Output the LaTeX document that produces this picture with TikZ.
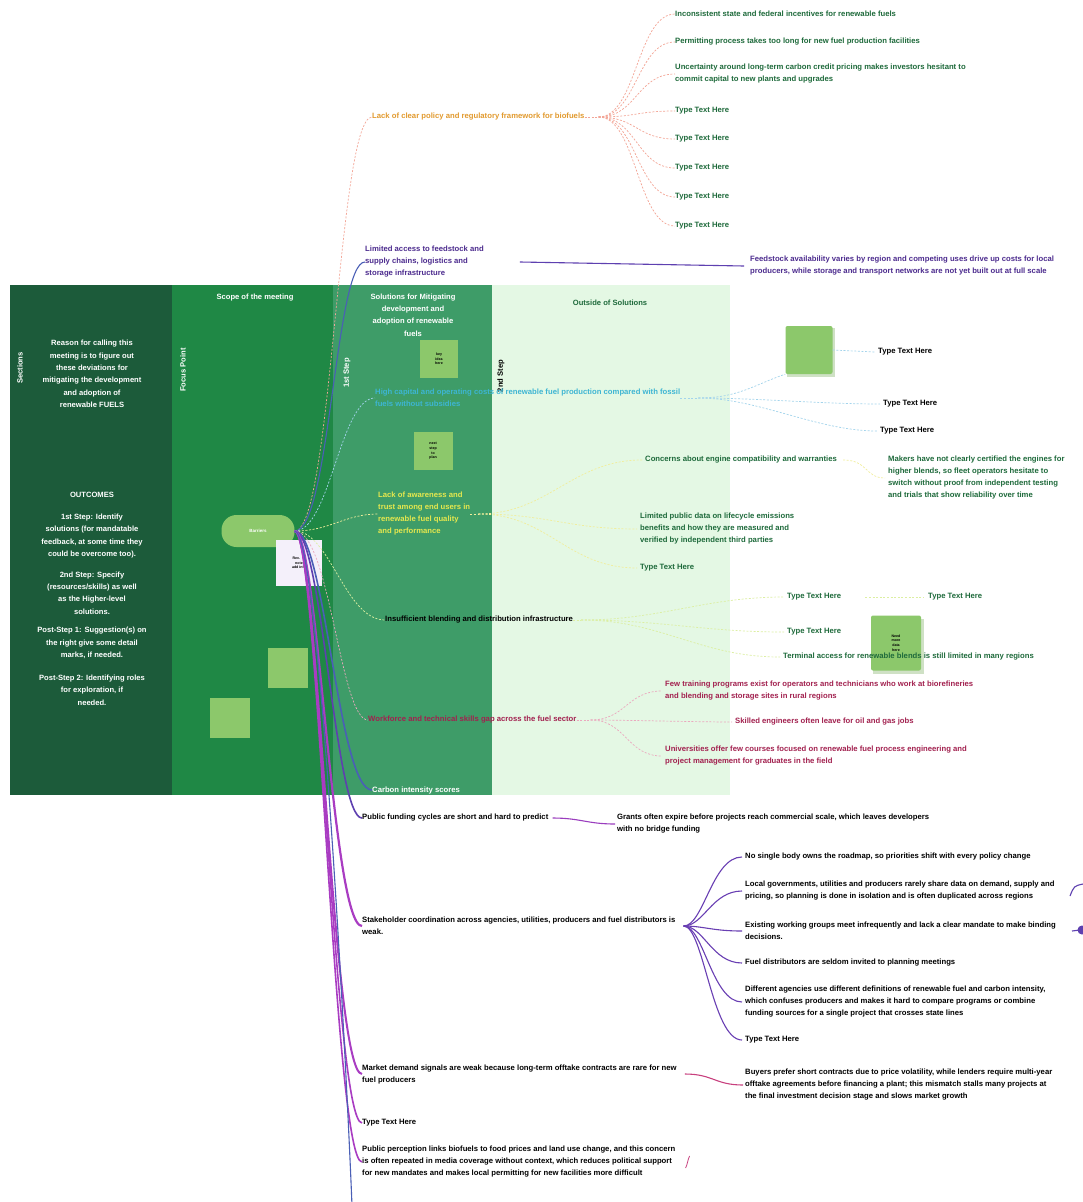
\documentclass[tikz,border=0pt]{standalone}
\usepackage{fontspec}
\setmainfont{Liberation Sans}
\definecolor{panelA}{HTML}{1C5B3A}
\definecolor{panelB}{HTML}{1F8845}
\definecolor{panelC}{HTML}{3E9C68}
\definecolor{panelD}{HTML}{E4F8E4}
\definecolor{leaf}{HTML}{8CC86B}
\definecolor{txtOrange}{HTML}{E29A2E}
\definecolor{txtGreen}{HTML}{1E6A3B}
\definecolor{txtPurple}{HTML}{4C2B8E}
\definecolor{txtCyan}{HTML}{3DB5D3}
\definecolor{txtYellow}{HTML}{E6E84E}
\definecolor{txtMaroon}{HTML}{A2214F}
\definecolor{lnSalmon}{HTML}{F3A596}
\definecolor{lnCyan}{HTML}{A3D4EC}
\definecolor{lnYellow}{HTML}{F1EE9C}
\definecolor{lnLime}{HTML}{DCEFA2}
\definecolor{lnPink}{HTML}{EBA8BE}
\definecolor{lnPurple}{HTML}{5E40B0}
\definecolor{lnBlue}{HTML}{4A5FB6}
\definecolor{lnMagenta}{HTML}{A93CC2}
\definecolor{lnRose}{HTML}{C8407E}
\definecolor{noteBg}{HTML}{F4F0FA}
\begin{document}
\begin{tikzpicture}[x=1pt,y=-1pt,
  lbl/.style={inner sep=0pt, anchor=west, align=left, font=\fontsize{7.7}{12}\selectfont\bfseries},
  ctr/.style={inner sep=0pt, align=center, font=\fontsize{7.6}{12.3}\selectfont\bfseries},
  vert/.style={inner sep=0pt, rotate=90, font=\fontsize{7.6}{12}\selectfont\bfseries},
  smalltxt/.style={font=\fontsize{3.6}{4.6}\selectfont\bfseries, align=center, text=black},
  dashline/.style={line width=0.7pt, dash pattern=on 2pt off 1.6pt},
  trunk/.style={line width=1.6pt},
  branch/.style={line width=1.1pt},
]
\useasboundingbox (0,0) rectangle (1083,1202);
\fill[white] (0,0) rectangle (1083,1202);

% swimlane panels
\fill[panelA] (10,285) rectangle (172,795);
\fill[panelB] (172,285) rectangle (333,795);
\fill[panelC] (333,285) rectangle (492,795);
\fill[panelD] (492,285) rectangle (730,795);

% panel headers and lane labels
\node[ctr, text=white] (hB) at (255,298) {Scope of the meeting};
\node[ctr, text=white] (hC) at (413,315) {Solutions for Mitigating\\development and\\adoption of renewable\\fuels};
\node[ctr, text=txtGreen] (hD) at (610,303) {Outside of Solutions};
\node[vert, text=white] (vA) at (20,368) {Sections};
\node[vert, text=white] (vB) at (183,370) {Focus Point};
\node[vert, text=white] (vC) at (347,373) {1st Step};
\node[vert, text=black] (vD) at (501,376) {2nd Step};

% left lane text
\node[ctr, text=white] (why) at (92,374) {Reason for calling this\\meeting is to figure out\\these deviations for\\mitigating the development\\and adoption of\\renewable FUELS};
\node[ctr, text=white] (out0) at (92,495) {OUTCOMES};
\node[ctr, text=white] (out1) at (92,536) {1st Step: Identify\\solutions (for mandatable\\feedback, at some time they\\could be overcome too).};
\node[ctr, text=white] (out2) at (92,593) {2nd Step: Specify\\(resources/skills) as well\\as the Higher-level\\solutions.};
\node[ctr, text=white] (out3) at (92,643) {Post-Step 1: Suggestion(s) on\\the right give some detail\\marks, if needed.};
\node[ctr, text=white] (out4) at (92,690) {Post-Step 2: Identifying roles\\for exploration, if\\needed.};

% image tiles and sticky notes
\fill[leaf] (268,648) rectangle (308,688);
\fill[leaf] (210,698) rectangle (250,738);
\node[fill=leaf, minimum width=38pt, minimum height=38pt, inner sep=0pt, smalltxt] (s3) at (439,359) {key\\idea\\here};
\node[fill=leaf, minimum width=39pt, minimum height=38pt, inner sep=0pt, smalltxt] (s4) at (433,451) {next\\step\\to\\plan};
\fill[leaf!85!black, opacity=0.35] (787,328) rectangle (835,377);
\node[fill=leaf, minimum width=47pt, minimum height=48pt, inner sep=0pt, rounded corners=2pt] (sq1) at (809,350) {};
\fill[leaf!85!black, opacity=0.35] (873,619) rectangle (924,674);
\node[fill=leaf, minimum width=50pt, minimum height=55pt, inner sep=0pt, rounded corners=2pt, smalltxt] (stk) at (896,643) {Need\\more\\data\\here};

% central topic and its note
\node[fill=leaf, rounded corners=15pt, minimum width=73pt, minimum height=32pt, inner sep=0pt,
      font=\fontsize{4.5}{5}\selectfont\bfseries, text=white] (c) at (258,531) {Barriers};
\node[fill=noteBg, minimum width=46pt, minimum height=46pt, inner sep=0pt, smalltxt] (nt) at (299,563) {Rev.\quad 1\\note\\add info};

% ---------- topics ----------
\node[lbl, text=txtOrange] (o) at (372,117) {Lack of clear policy and regulatory framework for biofuels};
\node[lbl, text=txtGreen] (o1) at (675,14) {Inconsistent state and federal incentives for renewable fuels};
\node[lbl, text=txtGreen] (o2) at (675,42) {Permitting process takes too long for new fuel production facilities};
\node[lbl, text=txtGreen] (o3) at (675,74) {Uncertainty around long-term carbon credit pricing makes investors hesitant to\\commit capital to new plants and upgrades};
\node[lbl, text=txtGreen] (o4) at (675,111) {Type Text Here};
\node[lbl, text=txtGreen] (o5) at (675,139) {Type Text Here};
\node[lbl, text=txtGreen] (o6) at (675,168) {Type Text Here};
\node[lbl, text=txtGreen] (o7) at (675,197) {Type Text Here};
\node[lbl, text=txtGreen] (o8) at (675,226) {Type Text Here};

\node[lbl, text=txtPurple] (p) at (365,262) {Limited access to feedstock and\\supply chains, logistics and\\storage infrastructure};
\node[lbl, text=txtPurple] (p1) at (750,266) {Feedstock availability varies by region and competing uses drive up costs for local\\producers, while storage and transport networks are not yet built out at full scale};

\node[lbl, text=txtCyan] (cy) at (375,398) {High capital and operating costs of renewable fuel production compared with fossil\\fuels without subsidies};
\node[lbl, text=black] (cy1) at (878,352) {Type Text Here};
\node[lbl, text=black] (cy2) at (883,404) {Type Text Here};
\node[lbl, text=black] (cy3) at (880,431) {Type Text Here};

\node[lbl, text=txtYellow] (ye) at (378,514) {Lack of awareness and\\trust among end users in\\renewable fuel quality\\and performance};
\node[lbl, text=txtGreen] (ye1) at (645,460) {Concerns about engine compatibility and warranties};
\node[lbl, text=txtGreen] (ye1a) at (888,478) {Makers have not clearly certified the engines for\\higher blends, so fleet operators hesitate to\\switch without proof from independent testing\\and trials that show reliability over time};
\node[lbl, text=txtGreen] (ye2) at (640,529) {Limited public data on lifecycle emissions\\benefits and how they are measured and\\verified by independent third parties};
\node[lbl, text=txtGreen] (ye3) at (640,568) {Type Text Here};

\node[lbl, text=black] (li) at (385,620) {Insufficient blending and distribution infrastructure};
\node[lbl, text=txtGreen] (li1) at (787,597) {Type Text Here};
\node[lbl, text=txtGreen] (li1a) at (928,597) {Type Text Here};
\node[lbl, text=txtGreen] (li2) at (787,632) {Type Text Here};
\node[lbl, text=txtGreen] (li3) at (783,657) {Terminal access for renewable blends is still limited in many regions};

\node[lbl, text=txtMaroon] (re) at (368,720) {Workforce and technical skills gap across the fuel sector};
\node[lbl, text=txtMaroon] (re1) at (665,691) {Few training programs exist for operators and technicians who work at biorefineries\\and blending and storage sites in rural regions};
\node[lbl, text=txtMaroon] (re2) at (735,722) {Skilled engineers often leave for oil and gas jobs};
\node[lbl, text=txtMaroon] (re3) at (665,756) {Universities offer few courses focused on renewable fuel process engineering and\\project management for graduates in the field};

\node[lbl, text=white] (bl) at (372,790) {Carbon intensity scores};

\node[lbl, text=black] (a) at (362,818) {Public funding cycles are short and hard to predict};
\node[lbl, text=black] (a1) at (617,824) {Grants often expire before projects reach commercial scale, which leaves developers\\with no bridge funding};

\node[lbl, text=black] (b) at (362,926) {Stakeholder coordination across agencies, utilities, producers and fuel distributors is\\weak.};
\node[lbl, text=black] (b1) at (745,857) {No single body owns the roadmap, so priorities shift with every policy change};
\node[lbl, text=black] (b2) at (745,891) {Local governments, utilities and producers rarely share data on demand, supply and\\pricing, so planning is done in isolation and is often duplicated across regions};
\node[lbl, text=black] (b3) at (745,931) {Existing working groups meet infrequently and lack a clear mandate to make binding\\decisions.};
\node[lbl, text=black] (b4) at (745,963) {Fuel distributors are seldom invited to planning meetings};
\node[lbl, text=black] (b5) at (745,1002) {Different agencies use different definitions of renewable fuel and carbon intensity,\\which confuses producers and makes it hard to compare programs or combine\\funding sources for a single project that crosses state lines};
\node[lbl, text=black] (b6) at (745,1040) {Type Text Here};

\node[lbl, text=black] (cc) at (362,1074) {Market demand signals are weak because long-term offtake contracts are rare for new\\fuel producers};
\node[lbl, text=black] (cc1) at (745,1085) {Buyers prefer short contracts due to price volatility, while lenders require multi-year\\offtake agreements before financing a plant; this mismatch stalls many projects at\\the final investment decision stage and slows market growth};

\node[lbl, text=black] (d) at (362,1123) {Type Text Here};
\node[lbl, text=black] (e) at (362,1162) {Public perception links biofuels to food prices and land use change, and this concern\\is often repeated in media coverage without context, which reduces political support\\for new mandates and makes local permitting for new facilities more difficult};

\coordinate (tail) at (352,1206);

% ---------- connectors from the central topic ----------
\draw[lnSalmon, dashline] (c.east) .. controls (332,531) and (338,117) .. (o.west);
\draw[lnBlue, branch] (c.east) .. controls (330,531) and (335,262) .. (p.west);
\draw[lnCyan, dashline] (c.east) .. controls (330,531) and (340,398) .. (cy.west);
\draw[lnYellow, dashline] (c.east) .. controls (330,531) and (345,514) .. (ye.west);
\draw[lnLime, dashline] (c.east) .. controls (330,531) and (345,620) .. (li.west);
\draw[lnPink, dashline] (c.east) .. controls (330,531) and (340,720) .. (re.west);
\draw[lnBlue, trunk] (c.east) .. controls (325,531) and (338,790) .. (bl.west);
\draw[lnPurple, trunk] (c.east) .. controls (322,531) and (335,818) .. (a.west);
\draw[lnMagenta, trunk, line width=2.2pt] (c.east) .. controls (318,531) and (332,926) .. (b.west);
\draw[lnMagenta, trunk, line width=2pt] (c.east) .. controls (318,531) and (332,1074) .. (cc.west);
\draw[lnMagenta, trunk] (c.east) .. controls (318,531) and (334,1123) .. (d.west);
\draw[lnMagenta, trunk] (c.east) .. controls (318,531) and (334,1162) .. (e.west);
\draw[lnBlue, branch] (c.east) .. controls (320,531) and (348,1100) .. (tail);

% ---------- connectors inside branches ----------
\coordinate (oj) at ([xshift=14pt]o.east);
\draw[lnSalmon, dashline] (o.east) -- (oj);
\foreach \k in {o1,o2,o3,o4,o5,o6,o7,o8}
  \draw[lnSalmon, dashline] (oj) .. controls +(38,0) and +(-38,0) .. (\k.west);

\draw[lnPurple, branch] ([xshift=36pt]p.east) -- ([xshift=-6pt]p1.west);

\coordinate (cj) at ([xshift=18pt]cy.east);
\draw[lnCyan, dashline] (cy.east) -- (cj);
\draw[lnCyan, dashline] (cj) .. controls +(40,0) and +(-30,10) .. (sq1.south west);
\draw[lnCyan, dashline] (sq1.east) -- ([xshift=-3pt]cy1.west);
\draw[lnCyan, dashline] (cj) .. controls +(60,0) and +(-60,0) .. ([xshift=-3pt]cy2.west);
\draw[lnCyan, dashline] (cj) .. controls +(60,0) and +(-60,0) .. ([xshift=-3pt]cy3.west);

\coordinate (yj) at ([xshift=8pt]ye.east);
\draw[lnYellow, dashline] (ye.east) -- (yj);
\foreach \k in {ye1,ye2,ye3}
  \draw[lnYellow, dashline] (yj) .. controls +(70,0) and +(-70,0) .. ([xshift=-3pt]\k.west);
\draw[lnYellow, dashline] ([xshift=6pt]ye1.east) .. controls +(25,0) and +(-20,0) .. ([xshift=-3pt]ye1a.west);

\coordinate (lj) at ([xshift=8pt]li.east);
\draw[lnLime, dashline] (li.east) -- (lj);
\foreach \k in {li1,li2,li3}
  \draw[lnLime, dashline] (lj) .. controls +(80,0) and +(-80,0) .. ([xshift=-3pt]\k.west);
\draw[lnLime, dashline] ([xshift=24pt]li1.east) -- ([xshift=-4pt]li1a.west);

\coordinate (rj) at ([xshift=14pt]re.east);
\draw[lnPink, dashline] (re.east) -- (rj);
\foreach \k in {re1,re2,re3}
  \draw[lnPink, dashline] (rj) .. controls +(35,0) and +(-35,0) .. ([xshift=-3pt]\k.west);

\draw[lnMagenta!80!lnPurple, branch] ([xshift=4pt]a.east) .. controls +(28,0) and +(-28,0) .. ([xshift=-2pt]a1.west);

\coordinate (bj) at ([xshift=8pt]b.east);
\foreach \k in {b1,b2,b3,b4,b5,b6}
  \draw[lnPurple!85!lnMagenta, branch] (bj) .. controls +(20,0) and +(-30,0) .. ([xshift=-3pt]\k.west);

\draw[lnRose, branch] ([xshift=8pt]cc.east) .. controls +(28,0) and +(-28,0) .. ([xshift=-2pt]cc1.west);
\draw[lnRose, line width=0.8pt] ([xshift=10pt]e.east) ++(0,6) .. controls +(2,-4) and +(-2,4) .. +(4,-12);

% branches running off the right edge
\draw[lnPurple, branch] (1070,896) .. controls (1074,886) .. (1083,884);
\draw[lnPurple, branch] (1072,931) -- (1080,930);
\fill[lnPurple] (1082,930) circle (4.5);
\end{tikzpicture}
\end{document}
